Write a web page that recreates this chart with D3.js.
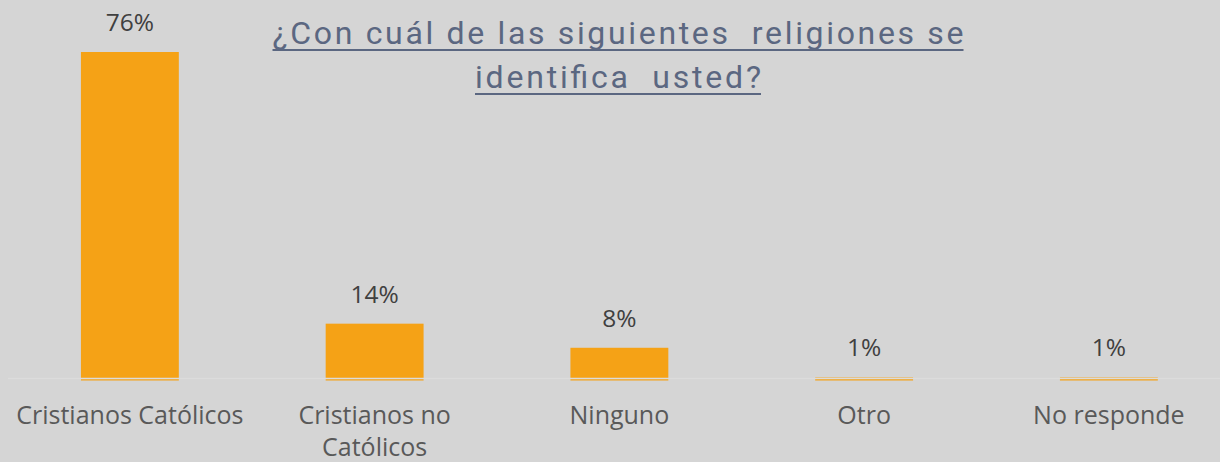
<!DOCTYPE html>
<html><head><meta charset="utf-8">
<script src="https://cdn.jsdelivr.net/npm/d3@7"></script>
<style>html,body{margin:0;padding:0;background:#d5d5d5;}</style>
</head><body>
<svg id="chart" width="1220" height="462"></svg>
<script>
const categories = ["Cristianos Católicos", "Cristianos no Católicos", "Ninguno", "Otro", "No responde"];
const categoryLines = [["Cristianos Católicos"], ["Cristianos no", "Católicos"], ["Ninguno"], ["Otro"], ["No responde"]];
const values = [76.3, 13.2, 7.6, 0.7, 0.7];
const valueLabels = ["76%", "14%", "8%", "1%", "1%"];
const titleLines = ["¿Con cuál de las siguientes  religiones se", "identifica  usted?"];

const svg = d3.select("#chart");
svg.append("rect").attr("width", 1220).attr("height", 462).attr("fill", "#d5d5d5");

const x = d3.scaleBand().domain(categories).range([7.5, 1231.25]).paddingInner(0.6).paddingOuter(0.3);
const y = d3.scaleLinear().domain([0, 76.3]).range([380.5, 52]);

svg.selectAll("rect.bar").data(values).enter().append("rect")
  .attr("class", "bar")
  .attr("x", (d, i) => x(categories[i]))
  .attr("width", x.bandwidth())
  .attr("y", d => y(d))
  .attr("height", d => y(0) - y(d))
  .attr("fill", "#f5a216");

// axis line
svg.append("line").attr("x1", 8).attr("x2", 1220).attr("y1", 378.5).attr("y2", 378.5)
  .attr("stroke", "#dcdcdc").attr("stroke-width", 1.5);

// value labels
svg.selectAll("text.val").data(values).enter().append("text")
  .attr("class", "val")
  .attr("x", (d, i) => x(categories[i]) + x.bandwidth() / 2)
  .attr("y", d => y(d) - 21)
  .attr("text-anchor", "middle")
  .attr("font-family", "'Open Sans', Lato, sans-serif")
  .attr("font-size", 24.5)
  .attr("fill", "#404040")
  .text((d, i) => valueLabels[i]);

// category labels
categories.forEach((c, i) => {
  const t = svg.append("text")
    .attr("x", x(c) + x.bandwidth() / 2)
    .attr("y", 424)
    .attr("text-anchor", "middle")
    .attr("font-family", "'Open Sans', Lato, sans-serif")
    .attr("font-size", 25)
    .attr("fill", "#595959");
  categoryLines[i].forEach((ln, j) => {
    t.append("tspan").attr("x", x(c) + x.bandwidth() / 2).attr("dy", j === 0 ? 0 : 32).text(ln);
  });
});

// title
const titleY = [44, 88];
const titleW = [691, 286];
const titleX = 618;
titleLines.forEach((ln, i) => {
  svg.append("text")
    .attr("x", titleX)
    .attr("y", titleY[i])
    .attr("text-anchor", "middle")
    .attr("font-family", "Roboto, 'Liberation Sans Narrow', sans-serif")
    .attr("font-weight", 400)
    .attr("font-size", 32)
    .attr("fill", "#5b6781")
    .attr("textLength", titleW[i])
    .attr("lengthAdjust", "spacing")
    .style("white-space", "pre")
    .text(ln);
  svg.append("line")
    .attr("x1", titleX - titleW[i] / 2).attr("x2", titleX + titleW[i] / 2)
    .attr("y1", titleY[i] + 6).attr("y2", titleY[i] + 6)
    .attr("stroke", "#5b6781").attr("stroke-width", 2);
});
</script>
</body></html>
